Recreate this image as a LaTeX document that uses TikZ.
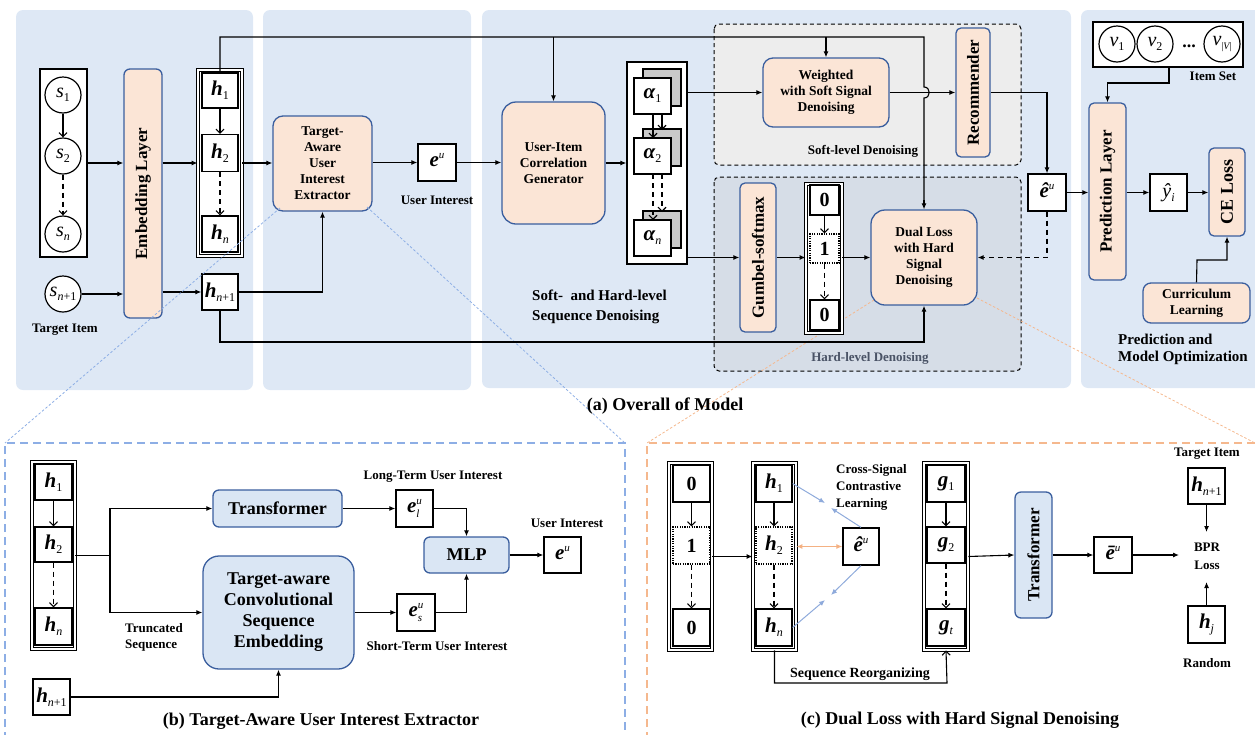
\documentclass[tikz,border=0pt]{standalone}
\usepackage{fontspec}
\setmainfont{Liberation Serif}
\usetikzlibrary{arrows.meta}
\definecolor{pbg}{HTML}{DEE8F5}
\definecolor{peach}{HTML}{FBE5D6}
\definecolor{bbord}{HTML}{3A5E9E}
\definecolor{lblue}{HTML}{DAE6F4}
\definecolor{softbg}{HTML}{EDEDED}
\definecolor{hardbg}{HTML}{D6DDE7}
\definecolor{backg}{HTML}{C9C9C9}
\definecolor{dashblue}{HTML}{8DAEE5}
\definecolor{dashor}{HTML}{F5B88E}
\definecolor{arrblue}{HTML}{8EAADB}
\definecolor{arror}{HTML}{F4B183}
\definecolor{hardtxt}{HTML}{4A5366}
\newcommand\fs[2]{\fontsize{#1}{#2}\selectfont}
\newcommand\bh[2]{{\fs{21}{21}\bfseries\itshape #1}\raisebox{-4pt}{\fs{12}{12}#2}}
\newcommand\sv[2]{{\fs{20}{20}\itshape #1}\raisebox{-4pt}{\fs{12}{12}#2}}
\newcommand\esup[3]{{\fs{21}{21}\bfseries\itshape #1}\rlap{\raisebox{-5pt}{\fs{11}{11}\itshape #3}}\raisebox{8pt}{\fs{11}{11}\itshape #2}}
\newcommand\nplus{\itshape n\upshape +1}
\tikzset{
  pbox/.style={draw=bbord, line width=1.3pt, fill=peach, rounded corners=#1, inner sep=0pt, align=center, font=\fs{13.5}{16}\bfseries},
  pbox/.default=6pt,
  lbbox/.style={draw=bbord, line width=1.3pt, fill=lblue, rounded corners=#1, inner sep=0pt, align=center, font=\fs{18}{21}\bfseries},
  lbbox/.default=6pt,
  vbox/.style={draw, line width=1.3pt, fill=white, inner sep=0pt},
  dotbox/.style={draw, line width=1.1pt, dash pattern=on 1.2pt off 1.2pt, fill=white, inner sep=0pt},
  dbox/.style={draw, line width=0.9pt, double=white, double distance=1.6pt, fill=white, inner sep=0pt},
  circ/.style={circle, draw, line width=1.2pt, fill=white, minimum size=36pt, inner sep=0pt},
  lbl/.style={font=\fs{13}{16}\bfseries, inner sep=0pt, align=center},
  big/.style={font=\fs{17}{17}\bfseries, inner sep=0pt, rotate=90},
  captxt/.style={font=\fs{18}{20}\bfseries, inner sep=0pt},
  plain/.style={line width=1.1pt},
  conn/.style={line width=1.1pt, -{Latex[length=6pt,width=5pt]}},
  inarr/.style={line width=1.1pt, -{Straight Barb[length=4pt,width=8pt]}},
  dsh/.style={dash pattern=on 5pt off 4pt},
  dzone/.style={draw, line width=1pt, dash pattern=on 4pt off 3pt, rounded corners=5pt},
  lead/.style={line width=0.8pt, dash pattern=on 2.5pt off 2pt},
  bigdash/.style={line width=1.3pt, dash pattern=on 8pt off 5pt},
}
\begin{document}
\begin{tikzpicture}[x=1pt,y=-1pt]
\useasboundingbox (0,0) rectangle (1255,734);
% ---------- panel backgrounds
\fill[pbg, rounded corners=7pt] (16,10) rectangle (253,390);
\fill[pbg, rounded corners=7pt] (263,10) rectangle (471,390);
\fill[pbg, rounded corners=7pt] (482,10) rectangle (1071,388);
\fill[pbg, rounded corners=7pt] (1081,10) rectangle (1268,388);
\draw[dzone, fill=softbg] (714,24) rectangle (1021,165);
\draw[dzone, fill=hardbg] (714,177) rectangle (1021,371);
\node[lbl] at (863,151) {Soft-level Denoising};
\node[lbl, text=hardtxt] at (870,358) {Hard-level Denoising};

% ---------- sub-panel frames
\draw[bigdash, dashblue] (5,740) -- (5,443) -- (625,443) -- (625,740);
\draw[bigdash, dashor] (647,740) -- (647,443) -- (1262,443);
\coordinate (bTL) at (5,443);
\coordinate (bTR) at (625,443);
\coordinate (cTL) at (647,443);
\coordinate (cTR) at (1255,443);

% ---------- panel 1
\node[vbox, minimum width=47pt, minimum height=188pt] (sbox) at (63.5,163) {};
\node[circ] (s1) at (63,95) {\sv{s}{1}};
\node[circ] (s2) at (63,156) {\sv{s}{2}};
\node[circ] (sn) at (63,234) {\sv{s}{\itshape n}};
\draw[inarr] (s1) -- (s2);
\draw[inarr, dsh] (s2) -- (sn);
\node[circ] (sn1) at (63,294) {\sv{s}{\nplus}};
\node[lbl] at (65,330) {Target Item};
\node[pbox, minimum width=38pt, minimum height=249pt] (emb) at (143,193.5) {};
\node[big] at (emb) {Embedding Layer};
\node[dbox, minimum width=44pt, minimum height=186pt] (hbox) at (220,163) {};
\node[vbox, minimum width=36pt, minimum height=35pt] (h1) at (220,90.5) {\bh{h}{1}};
\node[vbox, minimum width=36pt, minimum height=37pt] (h2) at (220,153) {\bh{h}{2}};
\node[vbox, minimum width=36pt, minimum height=36pt] (hn) at (220,234) {\bh{h}{\itshape n}};
\draw[inarr] (h1) -- (h2);
\draw[inarr, dsh] (h2) -- (hn);
\node[vbox, minimum width=36pt, minimum height=36pt] (hn1) at (220,292) {\bh{h}{\nplus}};
\draw[conn] (sbox.east) -- (emb.west |- sbox.east);
\draw[conn] (emb.east |- hbox.west) -- (hbox.west);
\draw[conn] (sn1.east) -- (emb.west |- sn1.east);
\draw[conn] (emb.east |- hn1.west) -- (hn1.west);

% ---------- panel 2
\node[pbox=10pt, minimum width=99pt, minimum height=95pt] (ext) at (322.5,163.5) {Target-\\Aware\\User\\Interest\\Extractor};
\node[vbox, minimum width=38pt, minimum height=37pt] (eu) at (437,162.5) {\esup{e}{u}{}};
\node[lbl] at (437,200) {User Interest};
\draw[conn] (hbox.east) -- (ext.west |- hbox.east);
\draw[conn] (ext.east |- eu.west) -- (eu.west);
\draw[conn] (hn1.east) -- (ext.south |- hn1.east) -- (ext.south);

% leaders to sub-panels
\draw[lead, dashblue] (280,208) -- (bTL);
\draw[lead, dashblue] (367,207) -- (bTR);
\draw[lead, dashor] (874,300) -- (cTL);
\draw[lead, dashor] (977,298) -- (cTR);

% ---------- panel 3
\node[pbox=14pt, minimum width=103pt, minimum height=122pt] (gen) at (553.5,163) {User-Item\\Correlation\\Generator};
\draw[conn] (eu.east) -- (gen.west |- eu.east);
\node[vbox, minimum width=60pt, minimum height=202pt] (abox) at (657,163) {};
\foreach \n/\y/\s in {a1/96/1, a2/156/2, an/238/{\itshape n}}{
  \node[draw, line width=1.3pt, fill=backg, minimum width=38pt, minimum height=37pt] at (662,\y-8.5) {};
  \node[vbox, minimum width=37pt, minimum height=36pt] (\n) at (652.5,\y) {\bh{α}{\s}};
}
\draw[inarr] (653,114) -- (653,138);
\draw[inarr] (662,114) -- (662,130);
\draw[inarr, dsh] (653,174) -- (653,220);
\draw[inarr, dsh] (662,174) -- (662,212);
\draw[conn] (gen.east) -- (abox.west |- gen.east);
\node[lbl, align=left, anchor=west, font=\fs{15}{20}\bfseries] at (532,307) {Soft-\ \ and Hard-level\\Sequence Denoising};

\node[pbox=10pt, minimum width=126pt, minimum height=69pt] (wsd) at (826,92.5) {Weighted\\with Soft Signal\\Denoising};
\node[pbox=5pt, minimum width=34pt, minimum height=129pt] (rec) at (973,92.5) {};
\node[big] at (rec) {Recommender};
\node[pbox=5pt, minimum width=36pt, minimum height=149pt] (gum) at (758,257.5) {};
\node[big] at (gum) {Gumbel-softmax};
\node[dbox, minimum width=36pt, minimum height=149pt] (zbox) at (824,258.5) {};
\node[vbox, minimum width=29pt, minimum height=30pt, font=\fs{20}{20}\bfseries] (z0) at (824.5,200) {0};
\node[dotbox, minimum width=29pt, minimum height=29pt, font=\fs{20}{20}\bfseries] (z1) at (824.5,248.5) {1};
\node[vbox, minimum width=29pt, minimum height=30pt, font=\fs{20}{20}\bfseries] (z2) at (824.5,315) {0};
\draw[inarr] (z0) -- (z1);
\draw[inarr, dsh] (z1) -- (z2);
\node[pbox=14pt, minimum width=106pt, minimum height=95pt] (dual) at (924,257.5) {Dual Loss\\with Hard\\Signal\\Denoising};
\node[vbox, minimum width=38pt, minimum height=37pt] (ehat) at (1047,192.5) {\esup{\^e}{u}{}};

\draw[conn] (abox.east |- wsd.west) -- (wsd.west);
\draw[conn] (abox.east |- gum.west) -- (gum.west);
\draw[conn] (gum.east) -- (zbox.west |- gum.east);
\draw[conn] (zbox.east |- gum.east) -- (dual.west |- gum.east);
\draw[conn] (wsd.east) -- (rec.west);
\draw[conn] (rec.east) -- (ehat.north |- rec.east) -- (ehat.north);
\draw[conn, dsh] (ehat.south) -- (ehat.south |- dual.east) -- (dual.east);

% top feed line
\coordinate (tl) at (220,37);
\draw[plain] (h1.north) -- (tl) -- (924,37) -- (924,87) .. controls (931,87) and (931,98) .. (924,98) -- (924,203);
\draw[conn] (924,200) -- (dual.north);
\draw[conn] (gen.north |- tl) -- (gen.north);
\draw[conn] (wsd.north |- tl) -- (wsd.north);
% bottom feed line
\draw[conn] (hn1.south) -- (220,342) -- (dual.south |- 0,342) -- (dual.south);

% ---------- panel 4
\node[draw, line width=1.5pt, fill=white, minimum width=150pt, minimum height=45pt, inner sep=0pt] (iset) at (1168,44.5) {};
\node[circ] (v1) at (1117,44) {\sv{v}{1}};
\node[circ] (v2) at (1155,44) {\sv{v}{2}};
\node[circ] (vv) at (1222,44) {{\fs{20}{20}\itshape v}\raisebox{-4pt}{\fs{10}{10}|\itshape V\upshape|}};
\node[font=\fs{18}{18}\bfseries, inner sep=0pt] at (1189,46) {...};
\node[lbl] at (1213,76) {Item Set};
\node[pbox=5pt, minimum width=37pt, minimum height=177pt] (pred) at (1107.5,191.5) {};
\node[big] at (pred) {Prediction Layer};
\node[vbox, minimum width=37pt, minimum height=37pt] (yhat) at (1168.5,192.5) {{\fs{20}{20}\itshape \^y}\raisebox{-4pt}{\fs{12}{12}\itshape i}};
\node[pbox=5pt, minimum width=36pt, minimum height=88pt] (ce) at (1227,192) {};
\node[big, font=\fs{18}{18}\bfseries] at (ce) {CE Loss};
\node[pbox=8pt, minimum width=107pt, minimum height=40pt] (cur) at (1196.5,303) {Curriculum\\Learning};
\node[lbl, align=left, anchor=west, font=\fs{15}{17}\bfseries] at (1118,349.5) {Prediction and\\Model Optimization};
\draw[conn] (1169,67) -- (1169,83) -- (pred.north |- 0,83) -- (pred.north);
\draw[conn] (ehat.east) -- (pred.west |- ehat.east);
\draw[conn] (pred.east |- yhat.west) -- (yhat.west);
\draw[conn] (yhat.east) -- (ce.west |- yhat.east);
\draw[conn] (cur.north) -- (1197,260) -- (ce.south |- 0,260) -- (ce.south);

\node[captxt] at (665,406) {(a) Overall of Model};

% ---------- panel b
\node[dbox, minimum width=43pt, minimum height=187pt] (bh) at (53.5,555.5) {};
\node[vbox, minimum width=37pt, minimum height=36pt] (bh1) at (53.5,482) {\bh{h}{1}};
\node[vbox, minimum width=37pt, minimum height=35pt] (bh2) at (53.5,544.5) {\bh{h}{2}};
\node[vbox, minimum width=37pt, minimum height=37pt] (bhn) at (53.5,626.5) {\bh{h}{\itshape n}};
\draw[inarr] (bh1) -- (bh2);
\draw[inarr, dsh] (bh2) -- (bhn);
\node[lbbox=6pt, minimum width=129pt, minimum height=37pt] (trf) at (277.5,508.5) {Transformer};
\node[lbbox=16pt, minimum width=151pt, minimum height=113pt] (tace) at (278.5,612.5) {Target-aware\\Convolutional\\Sequence\\Embedding};
\coordinate (split) at (110,555.5);
\draw[plain] (bh.east) -- (split);
\draw[conn] (split) -- (split |- trf.west) -- (trf.west);
\draw[conn] (split) -- (split |- tace.west) -- (tace.west);
\node[lbl, align=left, anchor=west, font=\fs{13}{16}\bfseries] at (125,637) {Truncated\\Sequence};
\node[vbox, minimum width=37pt, minimum height=36pt] (bhn1) at (51.5,697) {\bh{h}{\nplus}};
\draw[conn] (bhn1.east) -- (tace.south |- bhn1.east) -- (tace.south);
\node[vbox, minimum width=37pt, minimum height=37pt] (el) at (414.5,508.5) {\esup{e}{u}{l}};
\node[lbl] at (433,477) {Long-Term User Interest};
\node[lbbox=6pt, minimum width=85pt, minimum height=36pt] (mlp) at (466.5,555) {MLP};
\node[vbox, minimum width=38pt, minimum height=37pt] (es) at (416,612.5) {\esup{e}{u}{s}};
\node[lbl] at (437,646) {Short-Term User Interest};
\node[vbox, minimum width=37pt, minimum height=36pt] (eub) at (562.5,555) {\esup{e}{u}{}};
\node[lbl] at (567,523) {User Interest};
\draw[conn] (trf.east) -- (el.west);
\draw[conn] (el.east) -- (mlp.north |- el.east) -- (mlp.north);
\draw[conn] (tace.east |- es.west) -- (es.west);
\draw[conn] (es.east) -- (mlp.south |- es.east) -- (mlp.south);
\draw[conn] (mlp.east) -- (eub.west);
\node[captxt] at (321,721) {(b) Target-Aware User Interest Extractor};

% ---------- panel c
\node[dbox, minimum width=43pt, minimum height=187pt] (cz) at (690.5,556.5) {};
\node[vbox, minimum width=37pt, minimum height=37pt, font=\fs{20}{20}\bfseries] (cz0) at (691.5,483.5) {0};
\node[dotbox, minimum width=37pt, minimum height=37pt, font=\fs{20}{20}\bfseries] (cz1) at (691.5,545.5) {1};
\node[vbox, minimum width=37pt, minimum height=37pt, font=\fs{20}{20}\bfseries] (cz2) at (691.5,627.5) {0};
\draw[inarr] (cz0) -- (cz1);
\draw[inarr, dsh] (cz1) -- (cz2);
\node[dbox, minimum width=43pt, minimum height=187pt] (ch) at (774.5,556.5) {};
\node[vbox, minimum width=36pt, minimum height=37pt] (ch1) at (774,483.5) {\bh{h}{1}};
\node[dotbox, minimum width=36pt, minimum height=37pt] (ch2) at (774,545.5) {\bh{h}{2}};
\node[vbox, minimum width=36pt, minimum height=37pt] (chn) at (774,627.5) {\bh{h}{\itshape n}};
\draw[inarr] (ch1) -- (ch2);
\draw[inarr, dsh] (ch2) -- (chn);
\draw[conn] (cz.east) -- (ch.west);
\node[vbox, minimum width=36pt, minimum height=37pt] (ceh) at (861,546.5) {\esup{\^e}{u}{}};
\node[lbl, align=left, anchor=west, font=\fs{13}{17}\bfseries] at (836,487) {Cross-Signal\\Contrastive\\Learning};
\draw[line width=1pt, arror, {Latex[length=6pt,width=5pt]}-{Latex[length=6pt,width=5pt]}] (ch.east |- ceh.west) -- (ceh.west);
\coordinate (ct1) at (825,503);
\coordinate (ct2) at (831,508);
\coordinate (cb1) at (825,600);
\coordinate (cb2) at (831,595);
\draw[line width=1pt, arrblue, -{Latex[length=6pt,width=5pt]}] (ch1.east) -- (ct1);
\draw[line width=1pt, arrblue, -{Latex[length=6pt,width=5pt]}] (ceh.north) -- (ct2);
\draw[line width=1pt, arrblue, -{Latex[length=6pt,width=5pt]}] (chn.east) -- (cb1);
\draw[line width=1pt, arrblue, -{Latex[length=6pt,width=5pt]}] (ceh.south) -- (cb2);
\node[dbox, minimum width=44pt, minimum height=187pt] (cg) at (946,556.5) {};
\node[vbox, minimum width=38pt, minimum height=37pt] (g1) at (946,483.5) {\bh{g}{1}};
\node[vbox, minimum width=38pt, minimum height=36pt] (g2) at (946,545) {\bh{g}{2}};
\node[vbox, minimum width=38pt, minimum height=37pt] (gt) at (946,627.5) {\bh{g}{\itshape t}};
\draw[inarr] (g1) -- (g2);
\draw[inarr, dsh] (g2) -- (gt);
\draw[inarr] (ch.south) -- (774.5,683) -- (947,683) -- (cg.south);
\node[lbl, font=\fs{14}{16}\bfseries] at (860,674) {Sequence Reorganizing};
\node[lbbox=6pt, minimum width=37pt, minimum height=126pt] (ctr) at (1033.5,555) {};
\node[big] at (ctr) {Transformer};
\node[vbox, minimum width=38pt, minimum height=36pt] (ebar) at (1113,555) {\esup{\=e}{u}{}};
\node[lbl, font=\fs{13}{18}\bfseries] (bpr) at (1207,556) {BPR\\Loss};
\node[vbox, minimum width=37pt, minimum height=36pt] (ctn1) at (1206.5,486) {\bh{h}{\nplus}};
\node[vbox, minimum width=37pt, minimum height=37pt] (chj) at (1206.5,624.5) {\bh{h}{\itshape j}};
\node[lbl] at (1207,454) {Target Item};
\node[lbl] at (1207,663) {Random};
\draw[conn] (cg.east) -- (ctr.west);
\draw[conn] (ctr.east) -- (ebar.west);
\draw[conn] (ebar.east) -- (1179,555);
\draw[conn] (ctn1.south) -- (1206.5,532);
\draw[conn] (chj.north) -- (1206.5,582);
\node[captxt] at (960,720) {(c) Dual Loss with Hard Signal Denoising};
\end{tikzpicture}
\end{document}
